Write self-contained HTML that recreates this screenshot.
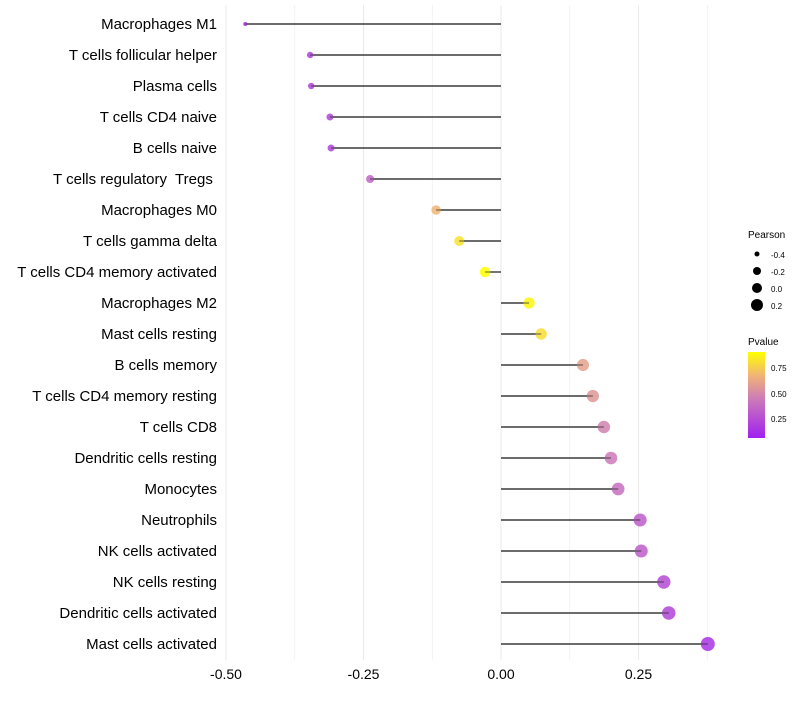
<!DOCTYPE html>
<html><head><meta charset="utf-8"><style>
body{margin:0;background:#fff;font-family:"Liberation Sans",sans-serif;}
svg text{font-family:"Liberation Sans",sans-serif;white-space:pre;}
</style></head><body>
<svg id="chart" width="800" height="700" xmlns="http://www.w3.org/2000/svg">
<defs><linearGradient id="pg" x1="0" y1="1" x2="0" y2="0">
<stop offset="0" stop-color="#a020f0"/><stop offset="0.45" stop-color="#cc7ab8"/><stop offset="0.72" stop-color="#f0b278"/><stop offset="1" stop-color="#ffff00"/></linearGradient></defs>
<g id="grid"></g><g id="marks"></g><g id="labels"></g>
<g>
<text x="748" y="238" font-size="10">Pearson</text>
<circle cx="757" cy="254" r="2.5" fill="#000"/><text x="771" y="258" font-size="8">-0.4</text>
<circle cx="757" cy="271" r="4" fill="#000"/><text x="771" y="275" font-size="8">-0.2</text>
<circle cx="757" cy="288" r="5" fill="#000"/><text x="771" y="292" font-size="8">0.0</text>
<circle cx="757" cy="305" r="6" fill="#000"/><text x="771" y="309" font-size="8">0.2</text>
</g>
<g>
<text x="748" y="345" font-size="10">Pvalue</text>
<rect x="748" y="352" width="17" height="86" fill="url(#pg)"/>
<text x="771" y="371" font-size="8">0.75</text>
<text x="771" y="397" font-size="8">0.50</text>
<text x="771" y="422" font-size="8">0.25</text>
</g>
</svg>
<script>
const categories=["Macrophages M1","T cells follicular helper","Plasma cells","T cells CD4 naive","B cells naive","T cells regulatory  Tregs ","Macrophages M0","T cells gamma delta","T cells CD4 memory activated","Macrophages M2","Mast cells resting","B cells memory","T cells CD4 memory resting","T cells CD8","Dendritic cells resting","Monocytes","Neutrophils","NK cells activated","NK cells resting","Dendritic cells activated","Mast cells activated"];
const pearson=[-0.465,-0.347,-0.345,-0.311,-0.309,-0.238,-0.118,-0.076,-0.029,0.051,0.073,0.149,0.167,0.187,0.2,0.213,0.253,0.255,0.296,0.305,0.376];
const pvalues=[0.12,0.2,0.2,0.22,0.22,0.35,0.68,0.82,0.92,0.88,0.8,0.6,0.56,0.48,0.45,0.4,0.32,0.32,0.25,0.22,0.14];
const xticks=[-0.5,-0.25,0,0.25];
const tickLabels=["-0.50","-0.25","0.00","0.25"];
const NS="http://www.w3.org/2000/svg";
const xs=v=>501+v*550, ys=i=>24+i*31;
function mk(t,a,p){const e=document.createElementNS(NS,t);for(const k in a)e.setAttribute(k,a[k]);p.appendChild(e);return e;}
function col(p){const stops=[[0.064,[160,32,240]],[0.45,[204,122,184]],[0.672,[240,178,120]],[0.906,[255,255,0]]];
if(p<=stops[0][0])return"rgb(160,32,240)";if(p>=stops[3][0])return"rgb(255,255,0)";
for(let i=0;i<3;i++){const[a,c1]=stops[i],[b,c2]=stops[i+1];if(p<=b){const t=(p-a)/(b-a);return"rgb("+c1.map((c,j)=>Math.round(c+(c2[j]-c)*t)).join(",")+")";}}}
const g=document.getElementById('grid'),m=document.getElementById('marks'),l=document.getElementById('labels');
for(let v=-0.5;v<=0.38;v+=0.125){const e=mk('line',{x1:xs(v),x2:xs(v),y1:5,y2:660,stroke:'#ebebeb','stroke-width':Math.abs(v*4-Math.round(v*4))<1e-6?1.1:0.6},g);

}
xticks.forEach((v,i)=>{const t=mk('text',{x:xs(v),y:679,'font-size':14,'text-anchor':'middle',fill:'#000'},l);t.textContent=tickLabels[i];

});
categories.forEach((c,i)=>{const t=mk('text',{x:217,y:ys(i)+5,'font-size':15,'text-anchor':'end',fill:'#000'},l);t.textContent=c;


const ln=mk('line',{x1:xs(0),x2:xs(pearson[i]),y1:ys(i),y2:ys(i),stroke:'#444','stroke-width':1.4},m);


const r=Math.sqrt(Math.max(2,28.9+53.5*pearson[i]));
const d=mk('circle',{cx:xs(pearson[i]),cy:ys(i),r:r,fill:col(pvalues[i]),'fill-opacity':0.85},m);


const ln2=mk('line',{x1:xs(0),x2:xs(pearson[i]),y1:ys(i),y2:ys(i),stroke:'#444','stroke-width':1.2,'stroke-opacity':0.6},m);

});
</script>
</body></html>
